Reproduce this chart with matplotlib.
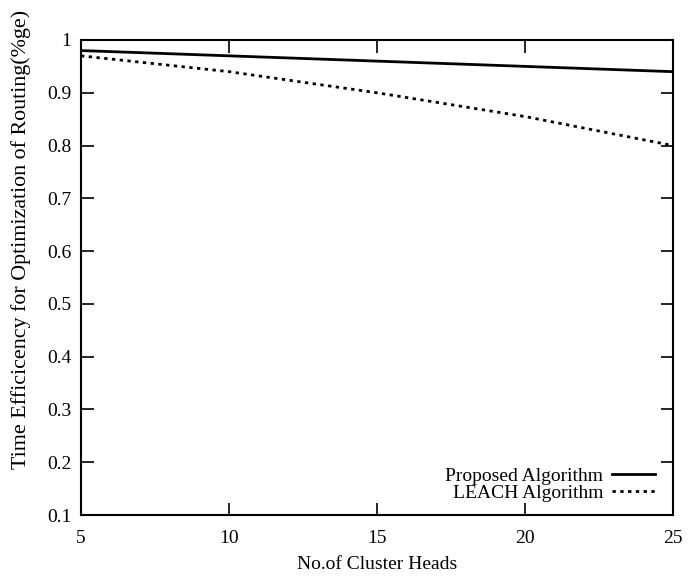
import numpy as np
import matplotlib
matplotlib.use('Agg')
import matplotlib.pyplot as plt

# values
cluster_heads = [5, 10, 15, 20, 25]
proposed = [0.98, 0.97, 0.96, 0.95, 0.94]
leach = [0.97, 0.94, 0.90, 0.855, 0.80]

x_ticks = [5, 10, 15, 20, 25]
y_ticks = [0.1, 0.2, 0.3, 0.4, 0.5, 0.6, 0.7, 0.8, 0.9, 1.0]
y_labels = ['0.1', '0.2', '0.3', '0.4', '0.5', '0.6', '0.7', '0.8', '0.9', '1']

plt.rcParams['font.family'] = ['Liberation Serif', 'DejaVu Serif']

fig = plt.figure(figsize=(7.0, 5.77), dpi=100)
ax = fig.add_axes([81 / 700, 1 - 515 / 577, (673 - 81) / 700, (515 - 40) / 577])

ax.plot(cluster_heads, proposed, color='black', lw=2.0, linestyle='-', label='Proposed Algorithm')
ax.plot(cluster_heads, leach, color='black', lw=2.0, linestyle=(0, (1.2, 1.6)), label='LEACH Algorithm')

ax.set_xlim(5, 25)
ax.set_ylim(0.1, 1.0)
ax.set_xticks(x_ticks)
ax.set_yticks(y_ticks)
ax.set_yticklabels(y_labels)
ax.tick_params(direction='in', top=True, right=True, length=9, width=1.2, labelsize=14)
ax.tick_params(axis='x', pad=11)
ax.tick_params(axis='y', pad=7)
for s in ax.spines.values():
    s.set_linewidth(1.5)

ax.set_xlabel('No.of Cluster Heads', fontsize=14, labelpad=6)
ax.set_ylabel('Time Efficicency for Optimization of Routing(%ge)', fontsize=15.8)
ax.yaxis.set_label_coords(-0.084, 0.58)

ax.legend(loc='lower right', bbox_to_anchor=(0.9696, 0.027), frameon=False, markerfirst=False,
          fontsize=14, handlelength=2.2, labelspacing=0.0, borderaxespad=0.0, borderpad=0.0,
          handletextpad=0.46)

fig.savefig('out.png', dpi=100)
